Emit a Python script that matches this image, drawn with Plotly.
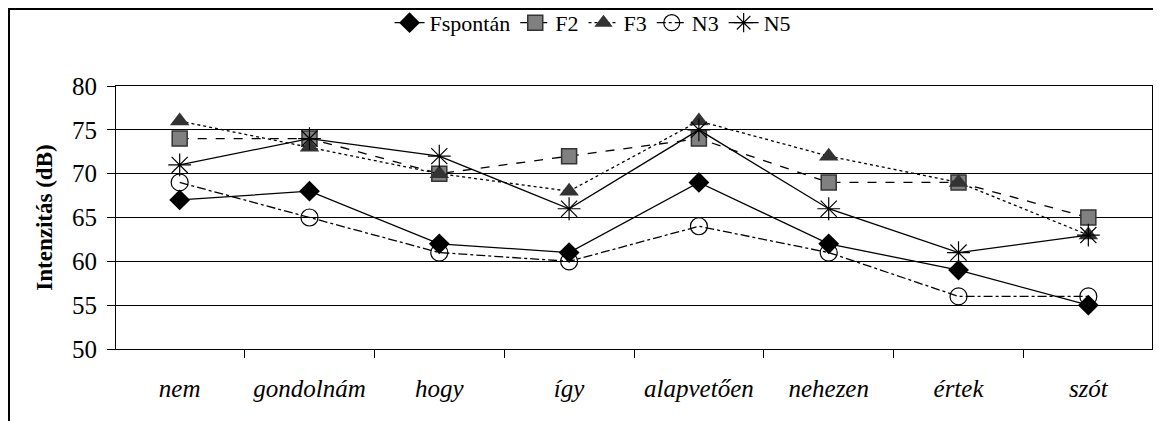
import plotly.graph_objects as go

words = ['nem', 'gondolnám', 'hogy', 'így', 'alapvetően', 'nehezen', 'értek', 'szót']
fspontan = [67, 68, 62, 61, 69, 62, 59, 55]
f2 = [74, 74, 70, 72, 74, 69, 69, 65]
f3 = [76, 73, 70, 68, 76, 72, 69, 63]
n3 = [69, 65, 61, 60, 64, 61, 56, 56]
n5 = [71, 74, 72, 66, 75, 66, 61, 63]

series = [
    ('Fspontán', fspontan, 'solid', dict(symbol='diamond', size=16, color='black')),
    ('F2', f2, 'dash', dict(symbol='square', size=15, color='#808080',
                            line=dict(color='#333333', width=1.5))),
    ('F3', f3, 'dot', dict(symbol='triangle-up', size=17, color='#333333')),
    ('N3', n3, 'dashdot', dict(symbol='circle-open', size=17, color='black',
                               line=dict(color='black', width=1.2))),
    ('N5', n5, 'solid', dict(symbol='asterisk-open', size=19, color='black',
                             line=dict(color='black', width=1.2))),
]

fig = go.Figure()
for name, vals, dash, marker in series:
    fig.add_trace(go.Scatter(
        x=words, y=vals, name=name, mode='lines+markers',
        line=dict(color='black', width=1.3, dash=dash),
        marker=marker,
    ))

# the page body adds an 8px offset, so margins are shifted to compensate
fig.update_layout(
    width=1161, height=421,
    template='plotly_white',
    paper_bgcolor='white', plot_bgcolor='white',
    font=dict(family='Liberation Serif', size=22, color='black'),
    margin=dict(l=108, r=17, t=78, b=80, autoexpand=False),
    showlegend=True,
    legend=dict(orientation='h', x=0.46, xanchor='center', y=1.24, yanchor='middle',
                font=dict(size=22), bgcolor='rgba(0,0,0,0)', tracegroupgap=0),
    # outer chart frame, hugging the top-left edge of the figure
    shapes=[dict(type='rect', xref='paper', yref='paper',
                 x0=-0.1033, x1=1.2, y0=-0.5, y1=1.2928,
                 line=dict(color='black', width=2))],
)
fig.update_xaxes(
    type='category', tickson='boundaries', ticks='outside', ticklen=8,
    tickcolor='black', showgrid=False, showline=True, linecolor='black',
    mirror=True, tickfont=dict(size=25, style='italic'), ticklabelstandoff=17,
)
fig.update_yaxes(
    range=[50, 80], dtick=5, ticks='outside', ticklen=8, tickcolor='black',
    showgrid=True, gridcolor='black', gridwidth=1, showline=True,
    linecolor='black', mirror=True, zeroline=False,
    title=dict(text='<b>Intenzitás (dB)</b>', font=dict(size=23), standoff=12),
    tickfont=dict(size=25), ticklabelstandoff=5,
)

fig.write_html('out.html')
